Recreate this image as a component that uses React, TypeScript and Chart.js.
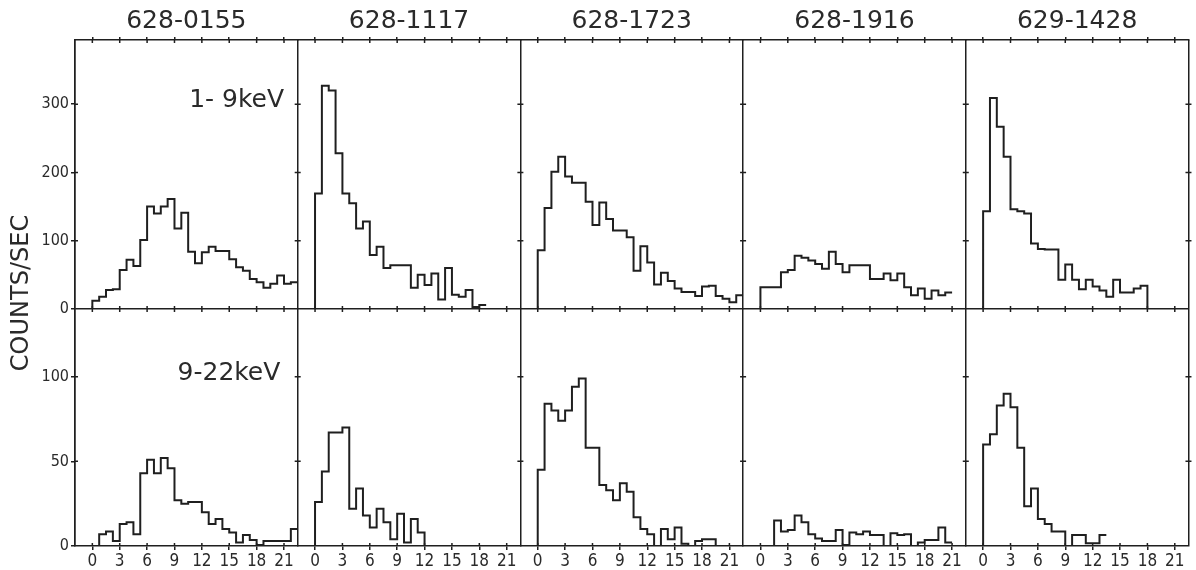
import React, { useEffect, useRef } from 'react';
import { Chart, registerables } from 'chart.js';

Chart.register(...registerables);

// ---------- data ----------
const PANEL_NAMES = ['628-0155', '628-1117', '628-1723', '628-1916', '629-1428'];
const X_TICKS = [0, 3, 6, 9, 12, 15, 18, 21];
const Y_TOP_TICKS = [0, 100, 200, 300];
const Y_BOT_TICKS = [0, 50, 100];
const BIN = 0.75;
const X_MIN = -1.9;
const X_MAX = 22.5;
const Y_TOP_MAX = 394;
const Y_BOT_MAX = 140;
const TOP_BAND = '1- 9keV';
const BOT_BAND = '9-22keV';
const Y_TITLE = 'COUNTS/SEC';

// 1-9 keV counts per bin
const TOP_0155 = [12, 18, 28, 29, 57, 72, 63, 101, 150, 140, 150, 161, 118, 141, 84, 67, 83, 91, 85, 85, 73, 61, 56, 44, 39, 31, 37, 49, 37, 39];
const TOP_1117 = [169, 327, 320, 228, 169, 155, 118, 128, 79, 91, 60, 64, 64, 64, 31, 50, 35, 52, 14, 60, 21, 18, 28, 3, 6];
const TOP_1723 = [86, 148, 201, 223, 194, 185, 185, 157, 123, 156, 132, 115, 115, 105, 56, 92, 68, 36, 53, 41, 30, 25, 25, 19, 33, 34, 19, 15, 10, 20];
const TOP_1916 = [32, 32, 32, 54, 57, 78, 75, 71, 66, 59, 84, 66, 54, 64, 64, 64, 44, 44, 52, 42, 52, 32, 20, 30, 15, 27, 20, 24];
const TOP_1428 = [143, 309, 267, 223, 146, 143, 140, 96, 88, 87, 87, 43, 65, 43, 29, 43, 33, 27, 18, 43, 24, 24, 30, 34, 0];

// 9-22 keV counts per bin
const BOT_0155 = [0, 7, 8.5, 3, 13, 14, 7, 43, 51, 43, 52, 46, 27, 25, 26, 26, 20, 13, 16, 10, 8, 2, 6.5, 3.5, 0.6, 3, 3, 3, 3, 10];
const BOT_1117 = [26, 44, 67, 67, 70, 22, 34, 18, 11, 22, 14, 4, 19, 2, 16, 8, 0];
const BOT_1723 = [45, 84, 80, 74, 80, 94, 99, 58, 58, 36, 33, 27, 37, 32, 17, 10, 7, 0, 10, 4, 11, 1.4, 0, 3, 4, 4, 0];
const BOT_1916 = [0, 0, 15, 8.5, 9.5, 18, 14, 7, 4.5, 3, 3, 9.5, 0.6, 8, 7, 8.5, 6.5, 6.5, 0, 7.5, 6.5, 7, 0, 2, 3.5, 3.5, 11, 2];
const BOT_1428 = [60, 66, 83, 90, 82, 58, 23.5, 34, 16, 13, 8.5, 8.5, 0, 6.5, 6.5, 1.6, 1.6, 6.5];

const TOP_SERIES = [TOP_0155, TOP_1117, TOP_1723, TOP_1916, TOP_1428];
const BOT_SERIES = [BOT_0155, BOT_1117, BOT_1723, BOT_1916, BOT_1428];

// ---------- styling ----------
const INK = '#1f1f1f';
const TEXT = '#2a2a2a';
const NUM_FONT = "'DejaVu Sans Condensed', 'DejaVu Sans', sans-serif";
const X_FONT = "'Liberation Sans Narrow', 'DejaVu Sans Condensed', 'DejaVu Sans', sans-serif";
const TITLE_FONT = "'DejaVu Sans', sans-serif";
const MARK = 3;

function toSteps(vals: number[]) {
  const pts = [{ x: 0, y: 0 }];
  vals.forEach((v, i) => pts.push({ x: i * BIN, y: v }));
  pts.push({ x: vals.length * BIN, y: vals[vals.length - 1] });
  return pts;
}

const isTick = (v: number) => X_TICKS.includes(v);

function bottomAxis(i: number) {
  const last = i === PANEL_NAMES.length - 1;
  return {
    type: 'linear',
    axis: 'x',
    position: 'bottom',
    stack: 'cols',
    stackWeight: 1,
    min: X_MIN,
    max: X_MAX,
    afterBuildTicks: (s: any) => {
      const vals = [X_MIN, ...X_TICKS];
      if (last) vals.push(X_MAX);
      s.ticks = vals.map((v) => ({ value: v }));
    },
    afterFit: (s: any) => {
      s.height = 24;
    },
    ticks: {
      autoSkip: false,
      maxRotation: 0,
      padding: 1,
      color: TEXT,
      font: { family: X_FONT, size: 17 },
      callback: (v: number) => (isTick(v) ? String(v) : ''),
    },
    grid: {
      drawOnChartArea: true,
      drawTicks: true,
      tickLength: 4,
      lineWidth: 1.5,
      color: (c: any) => (c.tick && !isTick(c.tick.value) ? INK : 'rgba(0,0,0,0)'),
      tickColor: (c: any) => (c.tick && isTick(c.tick.value) ? INK : 'rgba(0,0,0,0)'),
    },
    border: { display: true, color: INK, width: 1.5 },
  };
}

function topAxis(i: number) {
  return {
    type: 'linear',
    axis: 'x',
    position: 'top',
    stack: 'colsTop',
    stackWeight: 1,
    min: X_MIN,
    max: X_MAX,
    afterBuildTicks: (s: any) => {
      s.ticks = X_TICKS.map((v) => ({ value: v }));
    },
    afterFit: (s: any) => {
      s.height = 40;
    },
    ticks: { display: false },
    grid: {
      drawOnChartArea: false,
      drawTicks: true,
      tickLength: 3,
      lineWidth: 1.5,
      tickColor: INK,
    },
    border: { display: true, color: INK, width: 1.5 },
    title: {
      display: true,
      text: PANEL_NAMES[i],
      color: TEXT,
      font: { family: TITLE_FONT, size: 25 },
      padding: { top: 6, bottom: 0 },
    },
  };
}

function yAxis(max: number, ticksList: number[], weight: number, midLine: boolean) {
  return {
    type: 'linear',
    axis: 'y',
    position: 'left',
    stack: 'rows',
    stackWeight: weight,
    min: 0,
    max,
    afterBuildTicks: (s: any) => {
      s.ticks = ticksList.map((v) => ({ value: v }));
    },
    afterFit: (s: any) => {
      s.width = 75;
    },
    ticks: {
      padding: 2,
      color: TEXT,
      font: { family: NUM_FONT, size: 16 },
    },
    grid: {
      drawOnChartArea: true,
      drawTicks: true,
      tickLength: 4,
      lineWidth: 1.5,
      color: (c: any) => (midLine && c.tick && c.tick.value === 0 ? INK : 'rgba(0,0,0,0)'),
      tickColor: INK,
    },
    border: { display: true, color: INK, width: 1.5 },
  };
}

// small crossing tick marks on the inner frame lines, positioned via the scales
const frameTicksPlugin = {
  id: 'frameTicks',
  afterDatasetsDraw(chart: any) {
    const { ctx, chartArea } = chart;
    const yT = chart.scales.yTop;
    const yB = chart.scales.yBot;
    const mid = yT.getPixelForValue(0);
    ctx.save();
    ctx.strokeStyle = INK;
    ctx.lineWidth = 1.5;
    ctx.beginPath();
    PANEL_NAMES.forEach((_, i) => {
      const sx = chart.scales[`x${i}`];
      X_TICKS.forEach((v) => {
        const px = sx.getPixelForValue(v);
        ctx.moveTo(px, mid - MARK);
        ctx.lineTo(px, mid + MARK);
        ctx.moveTo(px, chartArea.bottom - MARK);
        ctx.lineTo(px, chartArea.bottom);
        ctx.moveTo(px, chartArea.top);
        ctx.lineTo(px, chartArea.top + MARK);
      });
      const edges = [sx.getPixelForValue(X_MIN)];
      if (i === PANEL_NAMES.length - 1) edges.push(sx.getPixelForValue(X_MAX));
      edges.forEach((ex) => {
        Y_TOP_TICKS.filter((v) => v > 0).forEach((v) => {
          const py = yT.getPixelForValue(v);
          ctx.moveTo(ex - (i === 0 ? 0 : MARK), py);
          ctx.lineTo(ex + MARK, py);
        });
        Y_BOT_TICKS.filter((v) => v > 0).forEach((v) => {
          const py = yB.getPixelForValue(v);
          ctx.moveTo(ex - (i === 0 ? 0 : MARK), py);
          ctx.lineTo(ex + MARK, py);
        });
      });
    });
    ctx.stroke();
    ctx.restore();
  },
};

const textPlugin = {
  id: 'panelTexts',
  afterDraw(chart: any) {
    const { ctx, chartArea } = chart;
    const x0 = chart.scales.x0;
    const yT = chart.scales.yTop;
    const yB = chart.scales.yBot;
    ctx.save();
    ctx.fillStyle = TEXT;
    ctx.font = `25px ${TITLE_FONT}`;
    ctx.textAlign = 'right';
    ctx.textBaseline = 'alphabetic';
    ctx.fillText(TOP_BAND, x0.getPixelForValue(21), yT.getPixelForValue(296));
    ctx.fillText(BOT_BAND, x0.getPixelForValue(20.6), yB.getPixelForValue(98));
    ctx.translate(22, (chartArea.top + chartArea.bottom) / 2);
    ctx.rotate(-Math.PI / 2);
    ctx.textAlign = 'center';
    ctx.textBaseline = 'middle';
    ctx.font = `24px ${TITLE_FONT}`;
    ctx.fillText(Y_TITLE, 0, 0);
    ctx.restore();
  },
};

export default function App() {
  const ref = useRef<HTMLCanvasElement | null>(null);

  useEffect(() => {
    if (!ref.current) return;
    const datasets: any[] = [];
    PANEL_NAMES.forEach((name, i) => {
      datasets.push({
        label: `${name} 1-9 keV`,
        data: toSteps(TOP_SERIES[i]),
        xAxisID: `x${i}`,
        yAxisID: 'yTop',
        stepped: true,
        borderColor: INK,
        borderWidth: 2,
        pointRadius: 0,
        fill: false,
      });
      datasets.push({
        label: `${name} 9-22 keV`,
        data: toSteps(BOT_SERIES[i]),
        xAxisID: `x${i}`,
        yAxisID: 'yBot',
        stepped: true,
        borderColor: INK,
        borderWidth: 2,
        pointRadius: 0,
        fill: false,
      });
    });

    // Chart.js places top/left stacked boxes in reverse definition order,
    // so those axes are declared last-to-first.
    const scales: any = {};
    PANEL_NAMES.forEach((_, i) => {
      scales[`x${i}`] = bottomAxis(i);
    });
    for (let i = PANEL_NAMES.length - 1; i >= 0; i--) {
      scales[`t${i}`] = topAxis(i);
    }
    scales.yBot = yAxis(Y_BOT_MAX, Y_BOT_TICKS, 237, false);
    scales.yTop = yAxis(Y_TOP_MAX, Y_TOP_TICKS, 269, true);

    const chart = new Chart(ref.current, {
      type: 'line',
      data: { datasets },
      options: {
        animation: false,
        responsive: false,
        devicePixelRatio: 1,
        layout: { padding: { left: 0, right: 4, top: 0, bottom: 0 } },
        plugins: {
          legend: { display: false },
          tooltip: { enabled: false },
          title: { display: false },
        },
        scales,
      } as any,
      plugins: [frameTicksPlugin, textPlugin],
    });
    return () => chart.destroy();
  }, []);

  return (
    <div style={{ position: 'absolute', left: 0, top: 0, width: 1196, height: 570, background: '#fff' }}>
      <canvas ref={ref} width={1196} height={570} style={{ width: 1196, height: 570, display: 'block' }} />
    </div>
  );
}
